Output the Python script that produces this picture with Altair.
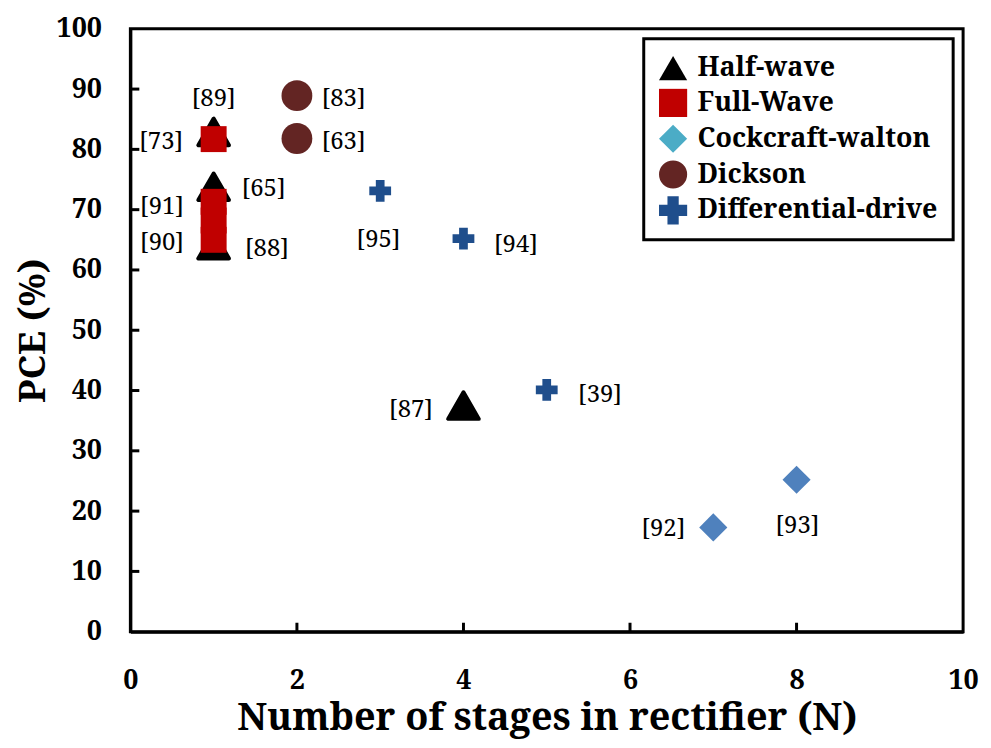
import altair as alt
import pandas as pd

# ---- data ----
series_names = ["Half-wave", "Full-Wave", "Cockcraft-walton", "Dickson", "Differential-drive"]
series_colors = ["#000000", "#c00000", "#4bacc6", "#632523", "#1f4e8c"]
series_shapes = ["triangle-up", "square", "diamond", "circle", "cross"]
cockcraft_point_color = "#4f81bd"

hw_x = [1, 1, 1, 4]
hw_y = [82.9, 73.8, 64.1, 37.5]
fw_x = [1, 1, 1, 1]
fw_y = [81.7, 71.3, 68.2, 65.0]
cw_x = [7, 8]
cw_y = [17.3, 25.2]
dk_x = [2, 2]
dk_y = [88.9, 81.8]
dd_x = [3, 4, 5]
dd_y = [73.1, 65.2, 40.1]

ref_text = ["[89]", "[73]", "[65]", "[91]", "[90]", "[88]", "[83]", "[63]",
            "[95]", "[94]", "[87]", "[39]", "[92]", "[93]"]
ref_x = [1.0, 0.37, 1.60, 0.38, 0.38, 1.64, 2.56, 2.56, 2.98, 4.63, 3.37, 5.64, 6.40, 8.01]
ref_y = [88.3, 81.2, 73.4, 70.5, 64.5, 63.5, 88.3, 81.2, 65.0, 64.2, 36.8, 39.3, 17.0, 17.5]

x_ticks = [2, 4, 6, 8]
y_ticks = [10, 20, 30, 40, 50, 60, 70, 80, 90]

# ---- tables ----
rows = []
for name, xs, ys in [("Half-wave", hw_x, hw_y), ("Full-Wave", fw_x, fw_y),
                     ("Cockcraft-walton", cw_x, cw_y), ("Dickson", dk_x, dk_y),
                     ("Differential-drive", dd_x, dd_y)]:
    for xv, yv in zip(xs, ys):
        rows.append({"N": xv, "PCE": yv, "Type": name})
pts = pd.DataFrame(rows)
labels = pd.DataFrame({"lx": ref_x, "ly": ref_y, "txt": ref_text})
xt = pd.DataFrame({"t": x_ticks})
yt = pd.DataFrame({"t": y_ticks})

FONT = "Noto Serif"
W, H = 837, 606

xscale = alt.Scale(domain=[0, 10], nice=False, zero=False)
yscale = alt.Scale(domain=[0, 100], nice=False, zero=False)

x_axis = alt.Axis(values=[0, 2, 4, 6, 8, 10], format="d", title="Number of stages in rectifier (N)",
                  labelFont=FONT, labelFontSize=27, labelFontWeight="bold", labelColor="black",
                  titleFont=FONT, titleFontSize=38, titleFontWeight="bold", titleColor="black",
                  ticks=False, labelPadding=36, titlePadding=6, grid=False, labelFlush=False,
                  domainColor="black", domainWidth=3)
y_axis = alt.Axis(values=list(range(0, 101, 10)), format="d", title="PCE (%)",
                  labelFont=FONT, labelFontSize=27, labelFontWeight="bold", labelColor="black",
                  titleFont=FONT, titleFontSize=37, titleFontWeight="bold", titleColor="black",
                  ticks=False, labelPadding=29, titlePadding=4, grid=False, labelFlush=False,
                  domainColor="black", domainWidth=3)

# layer with no marks (filtered empty) that carries the axes and the legend
carrier = alt.Chart(pts).transform_filter("false").mark_point(filled=True, opacity=1).encode(
    x=alt.X("N:Q", scale=xscale, axis=x_axis),
    y=alt.Y("PCE:Q", scale=yscale, axis=y_axis),
    color=alt.Color("Type:N", scale=alt.Scale(domain=series_names, range=series_colors),
                    sort=series_names,
                    legend=alt.Legend(title=None, orient="none", legendX=516, legendY=10,
                                      labelFont=FONT, labelFontSize=27, labelFontWeight="bold",
                                      labelColor="black", symbolSize=800, symbolStrokeWidth=0,
                                      rowPadding=7, padding=15, labelOffset=10,
                                      fillColor="white",
                                      symbolOpacity=1, labelLimit=400)),
    shape=alt.Shape("Type:N", scale=alt.Scale(domain=series_names, range=series_shapes),
                    sort=series_names),
)


def series_layer(name, color, shape, size, stroke_w=0):
    return alt.Chart(pts).transform_filter(alt.datum.Type == name).mark_point(
        filled=True, opacity=1, shape=shape, size=size, color=color,
        stroke=color, strokeWidth=stroke_w, strokeJoin="round"
    ).encode(x=alt.X("N:Q", scale=xscale), y=alt.Y("PCE:Q", scale=yscale))


hw = series_layer("Half-wave", "#000000", "triangle-up", 950, 4)
fw = series_layer("Full-Wave", "#c00000", "square", 680)
dk = series_layer("Dickson", "#632523", "circle", 960)
dd = series_layer("Differential-drive", "#1f4e8c", "cross", 480)
cw = series_layer("Cockcraft-walton", cockcraft_point_color, "diamond", 800)

txt = alt.Chart(labels).mark_text(font=FONT, fontSize=24, color="black",
                                  align="center", baseline="middle").encode(
    x=alt.X("lx:Q", scale=xscale), y=alt.Y("ly:Q", scale=yscale), text="txt:N")

ytick = alt.Chart(yt).mark_rule(color="black", strokeWidth=3).encode(
    y=alt.Y("t:Q", scale=yscale), x=alt.value(0), x2=alt.value(9))
xtick = alt.Chart(xt).mark_rule(color="black", strokeWidth=3).encode(
    x=alt.X("t:Q", scale=xscale), y=alt.value(H), y2=alt.value(H - 9))

chart = alt.layer(carrier, ytick, xtick, hw, fw, dk, dd, cw, txt).properties(
    width=W, height=H,
    autosize=alt.AutoSizeParams(type="none"),
    padding={"left": 123, "top": 19, "right": 20, "bottom": 114},
    background="white",
).configure_view(stroke="black", strokeWidth=3).configure_legend(
    strokeColor="black", strokeWidth=3)

chart.save("out.html", embed_options={"renderer": "svg", "actions": False})
